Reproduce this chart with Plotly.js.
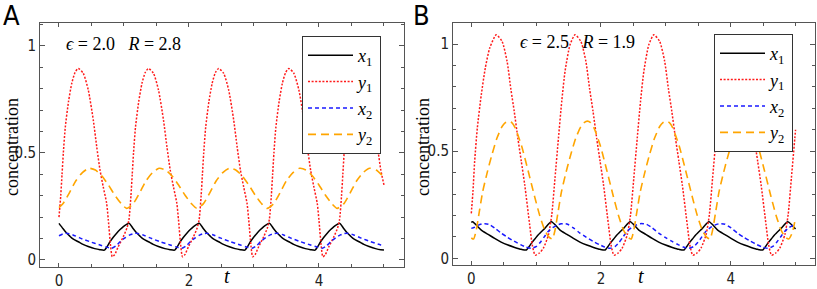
<!DOCTYPE html>
<html>
<head>
<meta charset="utf-8">
<script src="https://cdn.plot.ly/plotly-3.0.1.min.js"></script>
<style>html,body{margin:0;padding:0;background:#fff;}#chart{width:817px;height:289px;}</style>
</head>
<body>
<div id="chart"></div>
<script>
// ---------- Panel A (eps = 2.0, R = 2.8) ----------
var tA_x1 = [0,.06,.113,.17,.215,.297,.37,.45,.55,.63,.70,.74,.785,.835,.887,.94,.99,1.04,1.08,
  1.14,1.193,1.25,1.295,1.377,1.45,1.53,1.63,1.71,1.78,1.82,1.865,1.915,1.967,2.02,2.07,2.12,2.16,
  2.22,2.273,2.33,2.375,2.457,2.53,2.61,2.71,2.79,2.86,2.90,2.945,2.995,3.047,3.10,3.15,3.20,3.24,
  3.30,3.353,3.41,3.455,3.537,3.61,3.69,3.79,3.87,3.94,3.98,4.025,4.075,4.127,4.18,4.23,4.28,4.32,
  4.38,4.433,4.49,4.535,4.617,4.69,4.77,4.87,4.95,5.0];
var A_x1 = [.171,.147,.127,.11,.098,.085,.073,.063,.053,.048,.046,.062,.085,.106,.125,.142,.156,.166,.171,
  .147,.127,.11,.098,.085,.073,.063,.053,.048,.046,.062,.085,.106,.125,.142,.156,.166,.171,
  .147,.127,.11,.098,.085,.073,.063,.053,.048,.046,.062,.085,.106,.125,.142,.156,.166,.171,
  .147,.127,.11,.098,.085,.073,.063,.053,.048,.046,.062,.085,.106,.125,.142,.156,.166,.171,
  .147,.127,.11,.098,.085,.073,.063,.053,.048,.047];

var tA_y1 = [0,.027,.047,.067,.097,.147,.197,.247,.297,
  .374,.451,.528,.58,.631,.682,.733,.759,.795,.82,.857,
  .912,.99,1.047,1.077,1.107,1.127,1.147,1.177,1.227,1.277,1.327,1.377,
  1.454,1.531,1.608,1.66,1.711,1.762,1.813,1.839,1.875,1.90,1.937,
  1.992,2.07,2.127,2.157,2.187,2.207,2.227,2.257,2.307,2.357,2.407,2.457,
  2.534,2.611,2.688,2.74,2.791,2.842,2.893,2.919,2.955,2.98,3.017,
  3.072,3.15,3.207,3.237,3.267,3.287,3.307,3.337,3.387,3.437,3.487,3.537,
  3.614,3.691,3.768,3.82,3.871,3.922,3.973,3.999,4.035,4.06,4.097,
  4.152,4.23,4.287,4.317,4.347,4.367,4.387,4.417,4.467,4.517,4.567,4.617,
  4.694,4.771,4.848,4.90,4.951,5.0];
var A_y1 = [.20,.30,.40,.50,.62,.74,.825,.875,.894,
  .871,.793,.653,.53,.42,.34,.265,.187,.062,.015,.025,
  .062,.109,.15,.19,.30,.40,.50,.62,.74,.825,.875,.894,
  .871,.793,.653,.53,.42,.34,.265,.187,.062,.015,.025,
  .062,.109,.15,.19,.30,.40,.50,.62,.74,.825,.875,.894,
  .871,.793,.653,.53,.42,.34,.265,.187,.062,.015,.025,
  .062,.109,.15,.19,.30,.40,.50,.62,.74,.825,.875,.894,
  .871,.793,.653,.53,.42,.34,.265,.187,.062,.015,.025,
  .062,.109,.15,.19,.30,.40,.50,.62,.74,.825,.875,.894,
  .871,.793,.653,.53,.42,.35];

var tA_x2 = [0,.06,.115,.215,.32,.47,.63,.735,.81,.875,.94,1.015,1.09,1.145,1.195,
  1.295,1.40,1.55,1.71,1.815,1.89,1.955,2.02,2.095,2.17,2.225,2.275,
  2.375,2.48,2.63,2.79,2.895,2.97,3.035,3.10,3.175,3.25,3.305,3.355,
  3.455,3.56,3.71,3.87,3.975,4.05,4.115,4.18,4.255,4.33,4.385,4.435,
  4.535,4.64,4.79,4.95,5.0];
var A_x2 = [.113,.122,.125,.117,.103,.086,.07,.06,.055,.066,.085,.103,.117,.123,.125,
  .117,.103,.086,.07,.06,.055,.066,.085,.103,.117,.123,.125,
  .117,.103,.086,.07,.06,.055,.066,.085,.103,.117,.123,.125,
  .117,.103,.086,.07,.06,.055,.066,.085,.103,.117,.123,.125,
  .117,.103,.086,.07,.066];

var tA_y2 = [0,.06,.16,.26,.36,.46,.56,.66,.76,.86,.96,1.04,
  1.14,1.24,1.34,1.44,1.54,1.64,1.74,1.84,1.94,2.04,2.12,
  2.22,2.32,2.42,2.52,2.62,2.72,2.82,2.92,3.02,3.12,3.20,
  3.30,3.40,3.50,3.60,3.70,3.80,3.90,4.00,4.10,4.20,4.28,
  4.38,4.48,4.58,4.68,4.78,4.88,4.98,5.0];
var A_y2 = [.244,.262,.313,.37,.408,.428,.42,.392,.35,.302,.262,.241,
  .262,.313,.37,.408,.428,.42,.392,.35,.302,.262,.241,
  .262,.313,.37,.408,.428,.42,.392,.35,.302,.262,.241,
  .262,.313,.37,.408,.428,.42,.392,.35,.302,.262,.241,
  .262,.313,.37,.408,.428,.42,.392,.385];

// ---------- Panel B (eps = 2.5, R = 1.9) ----------
var tB_x1 = [0,.02,.154,.26,.36,.46,.566,.67,.772,.85,.88,.926,.98,1.03,1.133,1.235,
  1.369,1.475,1.575,1.675,1.781,1.885,1.987,2.065,2.095,2.141,2.195,2.245,2.348,2.45,
  2.584,2.69,2.79,2.89,2.996,3.10,3.202,3.28,3.31,3.356,3.41,3.46,3.563,3.665,
  3.799,3.905,4.005,4.105,4.211,4.315,4.417,4.495,4.525,4.571,4.625,4.675,4.778,4.88,
  5.0];
var B_x1 = [.168,.171,.132,.112,.093,.076,.062,.051,.042,.039,.05,.07,.09,.109,.14,.171,
  .132,.112,.093,.076,.062,.051,.042,.039,.05,.07,.09,.109,.14,.171,
  .132,.112,.093,.076,.062,.051,.042,.039,.05,.07,.09,.109,.14,.171,
  .132,.112,.093,.076,.062,.051,.042,.039,.05,.07,.09,.109,.14,.171,
  .137];

var tB_y1 = [0,.026,.052,.093,.154,.216,.284,.385,
  .475,.552,.61,.662,.718,.771,.824,.90,.94,.985,
  1.05,1.112,1.19,1.241,1.291,1.344,1.395,1.446,1.523,1.60,
  1.69,1.767,1.825,1.877,1.933,1.986,2.039,2.115,2.155,2.20,
  2.265,2.327,2.405,2.456,2.506,2.559,2.61,2.661,2.738,2.815,
  2.905,2.982,3.04,3.092,3.148,3.201,3.254,3.33,3.37,3.415,
  3.48,3.542,3.62,3.671,3.721,3.774,3.825,3.876,3.953,4.03,
  4.12,4.197,4.255,4.307,4.363,4.416,4.469,4.545,4.585,4.63,
  4.695,4.757,4.835,4.886,4.936,4.989,5.0];
var B_y1 = [.21,.313,.453,.608,.763,.888,.981,1.043,
  1.012,.919,.79,.686,.561,.453,.343,.157,.063,.015,
  .025,.048,.11,.204,.375,.561,.733,.873,.997,1.043,
  1.012,.919,.79,.686,.561,.453,.343,.157,.063,.015,
  .025,.048,.11,.204,.375,.561,.733,.873,.997,1.043,
  1.012,.919,.79,.686,.561,.453,.343,.157,.063,.015,
  .025,.048,.11,.204,.375,.561,.733,.873,.997,1.043,
  1.012,.919,.79,.686,.561,.453,.343,.157,.063,.015,
  .025,.048,.11,.204,.375,.561,.60];

var tB_x2 = [0,.05,.11,.17,.21,
  .27,.36,.46,.56,.66,.76,.84,.925,
  1.005,1.065,1.125,1.185,1.255,1.325,1.385,1.425,
  1.485,1.575,1.675,1.775,1.875,1.975,2.055,2.14,
  2.22,2.28,2.34,2.40,2.47,2.54,2.60,2.64,
  2.70,2.79,2.89,2.99,3.09,3.19,3.27,3.355,
  3.435,3.495,3.555,3.615,3.685,3.755,3.815,3.855,
  3.915,4.005,4.105,4.205,4.305,4.405,4.485,4.57,
  4.65,4.71,4.77,4.83,4.90,4.97,5.0];
var B_x2 = [.14,.145,.155,.161,.162,
  .159,.142,.118,.098,.080,.064,.053,.047,
  .056,.075,.10,.125,.143,.155,.161,.162,
  .159,.142,.118,.098,.080,.064,.053,.047,
  .056,.075,.10,.125,.143,.155,.161,.162,
  .159,.142,.118,.098,.080,.064,.053,.047,
  .056,.075,.10,.125,.143,.155,.161,.162,
  .159,.142,.118,.098,.080,.064,.053,.047,
  .056,.075,.10,.125,.143,.155,.158];

var tB_y2 = [0,.035,
  .075,.125,.175,.245,.315,.395,.475,.525,.575,
  .625,.675,.775,.875,.975,1.055,1.135,1.195,1.25,
  1.29,1.34,1.39,1.46,1.53,1.61,1.69,1.74,1.79,
  1.84,1.89,1.99,2.09,2.19,2.27,2.35,2.41,2.465,
  2.505,2.555,2.605,2.675,2.745,2.825,2.905,2.955,3.005,
  3.055,3.105,3.205,3.305,3.405,3.485,3.565,3.625,3.68,
  3.72,3.77,3.82,3.89,3.96,4.04,4.12,4.17,4.22,
  4.27,4.32,4.42,4.52,4.62,4.70,4.78,4.84,4.895,
  4.95,5.0];
var B_y2 = [.095,.09,
  .13,.22,.31,.40,.48,.56,.615,.633,.64,
  .633,.61,.525,.41,.29,.20,.13,.10,.09,
  .13,.22,.31,.40,.48,.56,.615,.633,.64,
  .633,.61,.525,.41,.29,.20,.13,.10,.09,
  .13,.22,.31,.40,.48,.56,.615,.633,.64,
  .633,.61,.525,.41,.29,.20,.13,.10,.09,
  .13,.22,.31,.40,.48,.56,.615,.633,.64,
  .633,.61,.525,.41,.29,.20,.13,.10,.09,
  .12,.19];

var seriesNames = ['<i>x</i><sub>1</sub>', '<i>y</i><sub>1</sub>', '<i>x</i><sub>2</sub>', '<i>y</i><sub>2</sub>'];
var xTickVals = [0,2,4];
var xTickText = ['0','2','4'];
var yTickVals = [0,0.5,1];
var yTickText = ['0','0.5','1'];
var panelLabels = ['A','B'];
var NB = '\u00A0';
var paramText = ['<i>ϵ</i> = 2.0' + NB+NB+NB + '<i>R</i> = 2.8', '<i>ϵ</i> = 2.5' + NB+NB+NB + '<i>R</i> = 1.9'];

var styles = [
  {color:'#000000', width:1.5, dash:'solid'},
  {color:'#ff1a1a', width:1.5, dash:'2px,1.6px'},
  {color:'#1a1aff', width:1.5, dash:'4px,3px'},
  {color:'#ffa500', width:1.6, dash:'8px,5px'}
];

function mk(t, y, i, xa, ya, leg) {
  return {x:t, y:y, mode:'lines', name:seriesNames[i], xaxis:xa, yaxis:ya, legend:leg,
    line:{color:styles[i].color, width:styles[i].width, dash:styles[i].dash, shape:'spline', smoothing:0.6},
    hoverinfo:'skip'};
}

var data = [
  mk(tA_x1, A_x1, 0, 'x', 'y', 'legend'),
  mk(tA_y1, A_y1, 1, 'x', 'y', 'legend'),
  mk(tA_x2, A_x2, 2, 'x', 'y', 'legend'),
  mk(tA_y2, A_y2, 3, 'x', 'y', 'legend'),
  mk(tB_x1, B_x1, 0, 'x2', 'y2', 'legend2'),
  mk(tB_y1, B_y1, 1, 'x2', 'y2', 'legend2'),
  mk(tB_x2, B_x2, 2, 'x2', 'y2', 'legend2'),
  mk(tB_y2, B_y2, 3, 'x2', 'y2', 'legend2')
];

var W = 817, H = 289;
function px(v){ return v / W; }
function py(v){ return 1 - v / H; }

var sansC = "DejaVu Sans Condensed, Liberation Sans Narrow, DejaVu Sans, sans-serif";
var serif = "Liberation Serif, Times New Roman, DejaVu Serif, serif";
var tickFont = {family:sansC, size:15, color:'#222'};
var frameCol = '#555';

function xax(domain, range) {
  return {domain:domain, range:range, showline:true, linecolor:frameCol, linewidth:1, mirror:'ticks',
    ticks:'inside', ticklen:4, tickwidth:1, tickcolor:frameCol, tickmode:'array', tickvals:xTickVals, ticktext:xTickText,
    minor:{ticks:'inside', ticklen:3, tickwidth:1, tickcolor:frameCol, dtick:0.5, tick0:0},
    showgrid:false, zeroline:false, tickfont:tickFont, fixedrange:true};
}
function yax(domain, range, anchor) {
  return {domain:domain, range:range, anchor:anchor, showline:true, linecolor:frameCol, linewidth:1, mirror:'ticks',
    ticks:'inside', ticklen:5, tickwidth:1, tickcolor:frameCol, tickmode:'array', tickvals:yTickVals, ticktext:yTickText,
    minor:{ticks:'inside', ticklen:3, tickwidth:1, tickcolor:frameCol, dtick:0.1, tick0:0},
    showgrid:false, zeroline:false, tickfont:tickFont, fixedrange:true};
}

var legendBase = {xanchor:'left', yanchor:'top', bgcolor:'#ffffff', bordercolor:'#333', borderwidth:1,
  font:{family:serif, size:18, color:'#000'}, itemwidth:45, tracegroupgap:0};

var layout = {
  width:W, height:H, margin:{l:0, r:0, t:0, b:0}, paper_bgcolor:'#fff', plot_bgcolor:'#fff',
  showlegend:true,
  xaxis: xax([px(40), px(404)], [-0.292, 5.308]),
  yaxis: yax([22/H, 266/H], [-0.0327, 1.106], 'x'),
  xaxis2: Object.assign(xax([px(453), px(815)], [-0.282, 5.30]), {anchor:'y2'}),
  yaxis2: yax([24/H, 266/H], [-0.031, 1.098], 'x2'),
  legend: Object.assign({}, legendBase, {x:px(302), y:py(36)}),
  legend2: Object.assign({}, legendBase, {x:px(714), y:py(34)}),
  annotations: [
    {text:panelLabels[0], xref:'paper', yref:'paper', x:px(11), y:py(16), showarrow:false, xanchor:'center', yanchor:'middle',
     font:{family:sansC, size:27, color:'#000'}},
    {text:panelLabels[1], xref:'paper', yref:'paper', x:px(421), y:py(16), showarrow:false, xanchor:'center', yanchor:'middle',
     font:{family:sansC, size:27, color:'#000'}},
    {text:paramText[0], xref:'paper', yref:'paper', x:px(123.5), y:py(44), showarrow:false, xanchor:'center', yanchor:'middle',
     font:{family:serif, size:18, color:'#000'}},
    {text:paramText[1], xref:'paper', yref:'paper', x:px(577), y:py(42), showarrow:false, xanchor:'center', yanchor:'middle',
     font:{family:serif, size:18, color:'#000'}},
    {text:'concentration', xref:'paper', yref:'paper', x:px(12), y:py(147), showarrow:false, textangle:-90, xanchor:'center', yanchor:'middle',
     font:{family:serif, size:18, color:'#000'}},
    {text:'concentration', xref:'paper', yref:'paper', x:px(423), y:py(147), showarrow:false, textangle:-90, xanchor:'center', yanchor:'middle',
     font:{family:serif, size:18, color:'#000'}},
    {text:'<i>t</i>', xref:'paper', yref:'paper', x:px(227), y:0, showarrow:false, xanchor:'center', yanchor:'bottom',
     font:{family:serif, size:20, color:'#000'}},
    {text:'<i>t</i>', xref:'paper', yref:'paper', x:px(641), y:0, showarrow:false, xanchor:'center', yanchor:'bottom',
     font:{family:serif, size:20, color:'#000'}}
  ]
};

Plotly.newPlot('chart', data, layout, {staticPlot:true, displayModeBar:false});
</script>
</body>
</html>
